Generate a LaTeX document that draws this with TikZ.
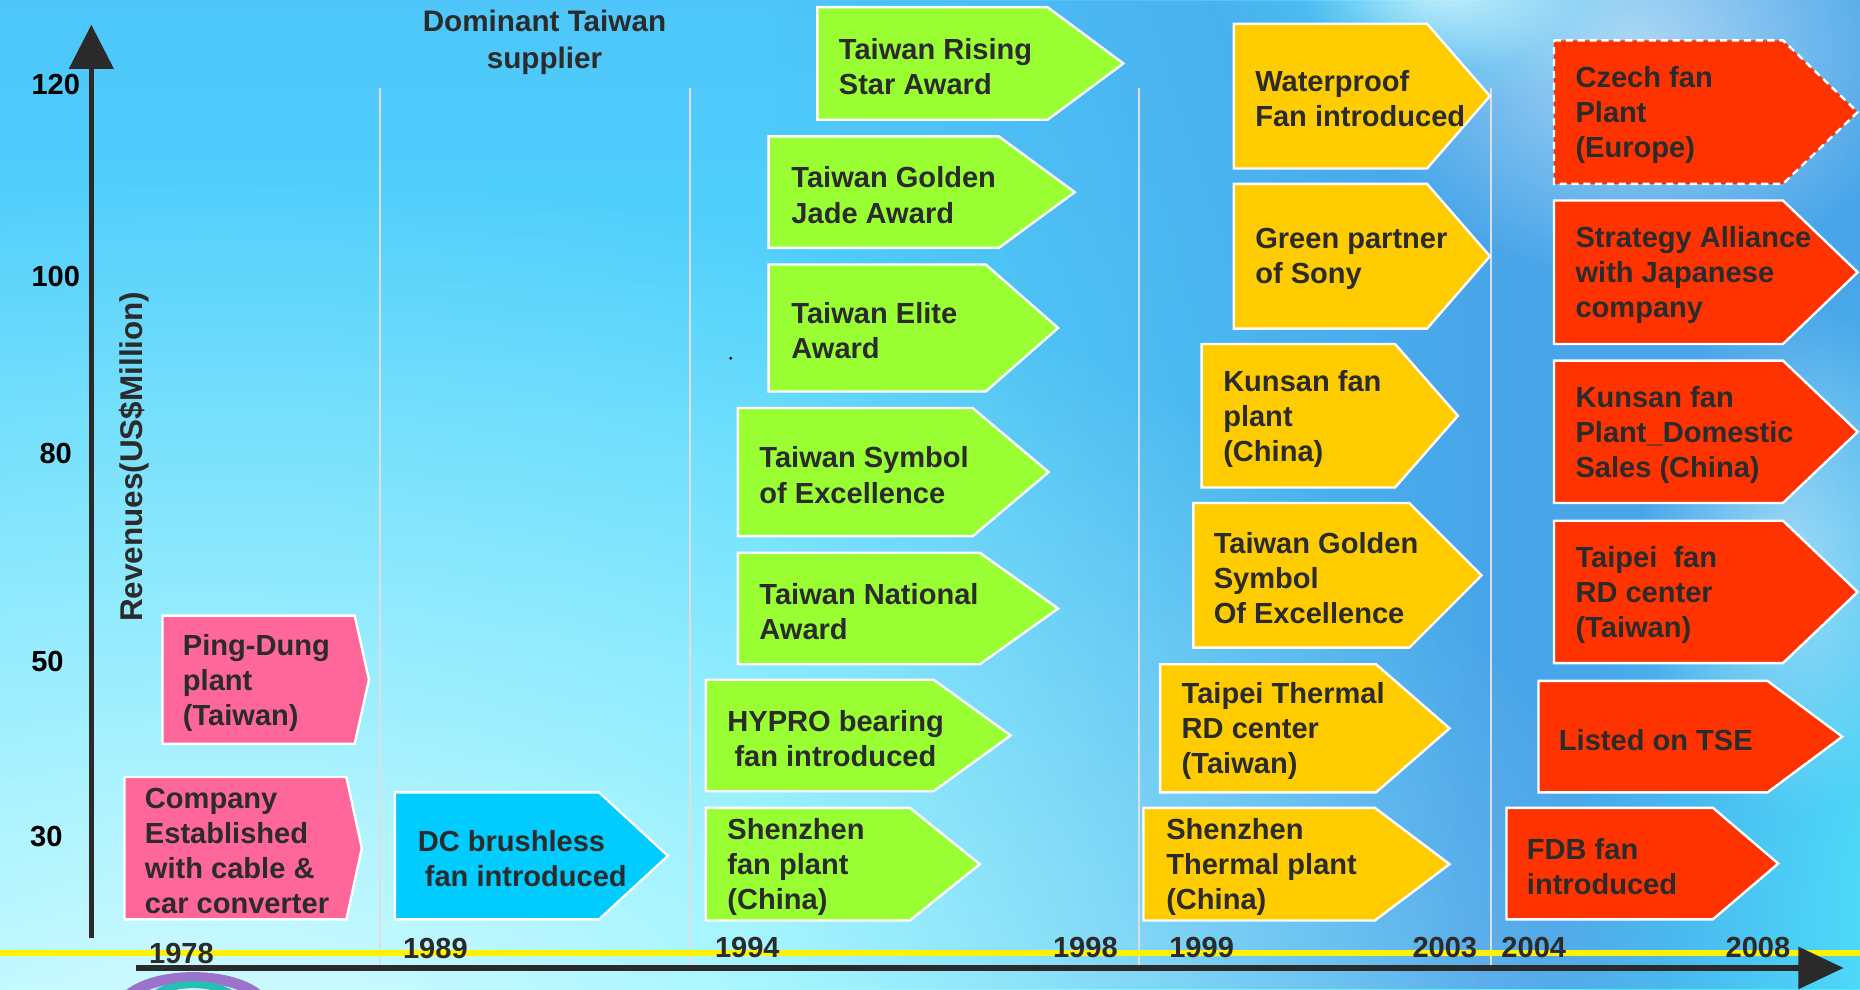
\documentclass[tikz,border=0pt]{standalone}
\usepackage{fontspec}
\setmainfont{Liberation Sans}
\usetikzlibrary{fadings}
\tikzfading[name=glow, inner color=transparent!0, outer color=transparent!100]
\definecolor{txt}{RGB}{43,43,43}
\definecolor{axisc}{RGB}{42,42,42}
\definecolor{pinkc}{RGB}{255,102,153}
\definecolor{bluec}{RGB}{0,204,255}
\definecolor{greenc}{RGB}{153,255,51}
\definecolor{yellowc}{RGB}{255,204,0}
\definecolor{redc}{RGB}{255,51,0}
\definecolor{bgtop}{RGB}{78,198,250}
\definecolor{bgmid}{RGB}{77,230,254}
\definecolor{bgbot}{RGB}{85,238,255}
\definecolor{bgcyan}{RGB}{78,232,254}
\definecolor{bgblue}{RGB}{72,165,233}
\definecolor{sepc}{RGB}{222,222,222}
\definecolor{purplec}{RGB}{130,80,190}
\definecolor{tealc}{RGB}{40,190,180}
\newcommand\arrbox[9]{%
  \fill[#2] (#3,#4) -- (#5,#4) -- (#6,{(#4+#7)/2}) -- (#5,#7) -- (#3,#7) -- cycle;
  \node[boxtext] (#1) at (#8,{(#4+#7)/2+2.5}) {#9};}
\begin{document}
\begin{tikzpicture}[x=1pt,y=-1pt,
  shapebox/.style={draw=white,line width=2pt,line join=miter},
  pinkbox/.style={shapebox,fill=pinkc},
  bluebox/.style={shapebox,fill=bluec},
  greenbox/.style={shapebox,fill=greenc},
  yellowbox/.style={shapebox,fill=yellowc},
  redbox/.style={shapebox,fill=redc},
  czechbox/.style={shapebox,fill=redc,dash pattern=on 6pt off 4pt},
  boxtext/.style={anchor=west,align=left,inner sep=0pt,text=txt,
    font=\fontsize{24.5}{29.6}\selectfont\bfseries},
  yearlab/.style={inner sep=0pt,text=txt,font=\fontsize{24.5}{29.5}\selectfont\bfseries},
  vallab/.style={inner sep=0pt,text=black,font=\fontsize{24.5}{29.5}\selectfont\bfseries},
  sepline/.style={draw=sepc,line width=1.6pt}]
\useasboundingbox (0,0) rectangle (1568,834);
% background
\shade[top color=bgtop,middle color=bgmid,bottom color=bgbot] (0,0) rectangle (1568,834);
\fill[bgblue,path fading=west] (650,0) rectangle (1250,834);
\fill[bgblue] (1249,0) rectangle (1568,834);
\fill[bgcyan,path fading=glow] (1640,780) ellipse (330pt and 560pt);
\fill[white,opacity=0.8,path fading=glow] (180,940) ellipse (1250pt and 800pt);
\fill[bgcyan,opacity=0.7,path fading=glow] (1215,-20) ellipse (200pt and 110pt);
\fill[white,opacity=0.6,path fading=glow] (1215,-10) ellipse (120pt and 70pt);
\fill[white,opacity=0.55,path fading=glow] (1380,40) ellipse (240pt and 200pt);
\fill[white,opacity=0.45,path fading=glow] (1510,470) ellipse (130pt and 220pt);
% ring at bottom left
\draw[purplec!80,line width=9pt] (163,852) ellipse (62pt and 28pt);
\draw[tealc,line width=6pt] (163,852) ellipse (42pt and 22pt);
% separators
\foreach \sx/\nm in {320/s1,582/s2,960/s3,1257/s4}{
  \coordinate (\nm top) at (\sx,74);
  \coordinate (\nm bot) at (\sx,818);
  \draw[sepline] (\nm top) -- (\nm bot);}
% yellow line
\coordinate (yl) at (0,803);
\coordinate (yr) at (1568,803);
\draw[yellow,line width=5pt] (yl) -- (yr);
% boxes
\arrbox{pingdung}{pinkbox}{137}{519}{299}{311}{627}{154}{Ping-Dung\\plant\\(Taiwan)}
\arrbox{company}{pinkbox}{105}{655}{292}{305}{775}{122}{Company\\Established\\with cable \&\\car converter}
\arrbox{dc}{bluebox}{333}{668}{505}{563}{775}{352}{DC brushless\\\hspace*{6pt}fan introduced}
\arrbox{rising}{greenbox}{689}{6}{883}{947}{101}{707}{Taiwan Rising\\Star Award}
\arrbox{jade}{greenbox}{648}{115}{842}{906}{209}{667}{Taiwan Golden\\Jade Award}
\arrbox{elite}{greenbox}{648}{223}{831}{892}{330}{667}{Taiwan Elite\\Award}
\arrbox{symbol}{greenbox}{622}{344}{820}{884}{452}{640}{Taiwan Symbol\\of Excellence}
\arrbox{national}{greenbox}{622}{466}{826}{892}{560}{640}{Taiwan National\\Award}
\arrbox{hypro}{greenbox}{595}{573}{787}{852}{667}{613}{HYPRO bearing\\\hspace*{6pt}fan introduced}
\arrbox{shenzhen}{greenbox}{595}{681}{767}{826}{776}{613}{Shenzhen\\fan plant\\(China)}
\arrbox{waterproof}{yellowbox}{1040}{20}{1203}{1256}{142}{1058}{Waterproof\\Fan introduced}
\arrbox{sony}{yellowbox}{1040}{155}{1203}{1256}{277}{1058}{Green partner\\of Sony}
\arrbox{kunsany}{yellowbox}{1013}{290}{1176}{1229}{411}{1031}{Kunsan fan\\plant\\(China)}
\arrbox{goldensym}{yellowbox}{1006}{424}{1188}{1249}{546}{1023}{Taiwan Golden\\Symbol\\Of Excellence}
\arrbox{taipeith}{yellowbox}{978}{560}{1160}{1222}{668}{996}{Taipei Thermal\\RD center\\(Taiwan)}
\arrbox{shenzhenth}{yellowbox}{964}{681}{1159}{1222}{776}{983}{Shenzhen\\Thermal plant\\(China)}
\arrbox{czech}{czechbox}{1310}{34}{1503}{1566}{155}{1328}{Czech fan\\Plant\\(Europe)}
\arrbox{strategy}{redbox}{1310}{169}{1503}{1566}{290}{1328}{Strategy Alliance\\with Japanese\\company}
\arrbox{kunsanr}{redbox}{1310}{304}{1503}{1566}{424}{1328}{Kunsan fan\\Plant\_Domestic\\Sales (China)}
\arrbox{taipeifan}{redbox}{1310}{439}{1503}{1566}{559}{1328}{Taipei\ \ fan\\RD center\\(Taiwan)}
\arrbox{tse}{redbox}{1297}{574}{1490}{1553}{668}{1314}{Listed on TSE}
\arrbox{fdb}{redbox}{1270}{681}{1444}{1499}{775}{1287}{FDB fan\\introduced}
% axes
\coordinate (xa0) at (115,816);
\coordinate (xa1) at (1517,816);
\draw[axisc,line width=4.5pt] (xa0) -- (xa1);
\fill[axisc] (1516,798) -- (1554,816) -- (1516,834) -- cycle;
\coordinate (ya0) at (77,791);
\coordinate (ya1) at (77,57);
\draw[axisc,line width=4pt] (ya0) -- (ya1);
\fill[axisc] (58,58) -- (77,21) -- (96,58) -- cycle;
% labels
\node[vallab] (v120) at (47,71) {120};
\node[vallab] (v100) at (47,233) {100};
\node[vallab] (v80) at (47,382) {80};
\node[vallab] (v50) at (40,558) {50};
\node[vallab] (v30) at (39,705) {30};
\node[inner sep=0pt,text=txt,rotate=90,font=\fontsize{26.5}{30}\selectfont\bfseries] (ylab) at (113,385) {Revenues(US\$Million)};
\node[inner sep=0pt,text=txt,align=center,font=\fontsize{25}{31}\selectfont\bfseries] (dom) at (459,36) {Dominant Taiwan\\supplier};
\node[yearlab] (y1978) at (153,804) {1978};
\node[yearlab] (y1989) at (367,800) {1989};
\node[yearlab] (y1994) at (630,799) {1994};
\node[yearlab] (y1998) at (915,799) {1998};
\node[yearlab] (y1999) at (1013,799) {1999};
\node[yearlab] (y2003) at (1218,799) {2003};
\node[yearlab] (y2004) at (1293,799) {2004};
\node[yearlab] (y2008) at (1482,799) {2008};
\fill[black] (616,302) circle (1.3pt);
\end{tikzpicture}
\end{document}
